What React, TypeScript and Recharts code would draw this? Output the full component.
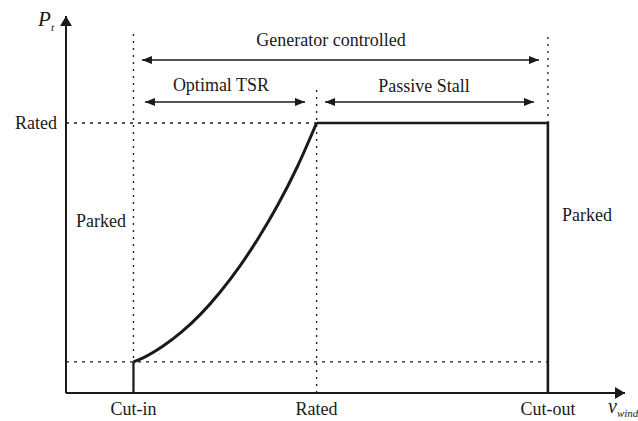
import { LineChart, Line, XAxis, YAxis, ReferenceLine, ReferenceDot } from "recharts";

const FONT = '"Liberation Serif", "Times New Roman", serif';
const INK = "#1a1a1a";

// wind speed (arbitrary units) and power (% of rated)
const windTicks = [3.5, 13, 25];
const windNames = ["Cut-in", "Rated", "Cut-out"];
const powerTicks = [100];
const powerNames = ["Rated"];

const curveV = [3.5, 4, 5, 6, 7, 8, 9, 10, 11, 12, 13];
const curveP = [11.5, 13, 17.2, 22.6, 29.3, 37.4, 46.8, 57.6, 69.8, 83.8, 100];
const stallV = [13, 25, 25];
const stallP = [100, 100, 0];
const stubV = [3.5, 3.5];
const stubP = [0, 11.5];

const curveData = curveV.map((v, i) => ({ v, p: curveP[i] }));
const stallData = stallV.map((v, i) => ({ v, p: stallP[i] }));
const stubData = stubV.map((v, i) => ({ v, p: stubP[i] }));

// region spans [from, to, level]
const genSpan = [3.94, 24.54, 123.3];
const tsrSpan = [4.1, 12.4, 107.8];
const stallSpan = [13.44, 24.28, 107.8];

const tickText = { fill: INK, fontSize: 18, fontFamily: FONT };

const arrow = (both: boolean, marker: string, width: number) => (p: any) => (
  <line
    x1={p.x1}
    y1={p.y1}
    x2={p.x2}
    y2={p.y2}
    stroke={INK}
    strokeWidth={width}
    markerEnd={`url(#${marker})`}
    markerStart={both ? `url(#${marker})` : undefined}
  />
);

const textLabel = (value: string) => ({
  value,
  position: "center" as const,
  fill: INK,
  fontSize: 18,
  fontFamily: FONT,
});

export default function App() {
  return (
    <div style={{ position: "absolute", left: 0, top: 0, width: 638, height: 421, background: "#fff" }}>
      <LineChart
        width={638}
        height={421}
        margin={{ top: 15, right: 13, bottom: 0, left: 0 }}
        style={{ fontFamily: FONT }}
      >
        <defs>
          <marker id="headS" viewBox="0 0 10 8" markerWidth={10} markerHeight={8} refX={10} refY={4}
            markerUnits="userSpaceOnUse" orient="auto-start-reverse">
            <path d="M0,0 L10,4 L0,8 z" fill={INK} />
          </marker>
          <marker id="headL" viewBox="0 0 10 12" markerWidth={10} markerHeight={12} refX={10} refY={6}
            markerUnits="userSpaceOnUse" orient="auto-start-reverse">
            <path d="M0,0 L10,6 L0,12 z" fill={INK} />
          </marker>
        </defs>
        <XAxis
          type="number"
          dataKey="v"
          domain={[0, 29]}
          ticks={windTicks}
          tickFormatter={(t: number) => windNames[windTicks.indexOf(t)]}
          interval={0}
          axisLine={false}
          tickLine={false}
          tickSize={0}
          tickMargin={9}
          height={28}
          tick={tickText}
        />
        <YAxis
          type="number"
          domain={[0, 140]}
          ticks={powerTicks}
          tickFormatter={(t: number) => powerNames[powerTicks.indexOf(t)]}
          axisLine={false}
          tickLine={false}
          tickSize={0}
          tickMargin={9}
          width={66}
          tick={tickText}
        />

        {/* dotted guides */}
        <ReferenceLine segment={[{ x: 0, y: 100 }, { x: 13, y: 100 }]} stroke={INK} strokeWidth={1.3} strokeDasharray="3 5" />
        <ReferenceLine segment={[{ x: 0, y: 11.5 }, { x: 25, y: 11.5 }]} stroke={INK} strokeWidth={1.3} strokeDasharray="3 5" />
        <ReferenceLine segment={[{ x: 3.5, y: 0 }, { x: 3.5, y: 133.7 }]} stroke={INK} strokeWidth={1.3} strokeDasharray="2 5" />
        <ReferenceLine segment={[{ x: 13, y: 0 }, { x: 13, y: 114 }]} stroke={INK} strokeWidth={1.3} strokeDasharray="2 5" />
        <ReferenceLine segment={[{ x: 25, y: 100 }, { x: 25, y: 133.7 }]} stroke={INK} strokeWidth={1.3} strokeDasharray="2 5" />

        {/* axes */}
        <ReferenceLine segment={[{ x: 0, y: 0 }, { x: 29, y: 0 }]} shape={arrow(false, "headL", 2)} />
        <ReferenceLine segment={[{ x: 0, y: 0 }, { x: 0, y: 139.6 }]} shape={arrow(false, "headL", 2)} />

        {/* region spans */}
        <ReferenceLine segment={[{ x: genSpan[0], y: genSpan[2] }, { x: genSpan[1], y: genSpan[2] }]} shape={arrow(true, "headS", 1.5)} />
        <ReferenceLine segment={[{ x: tsrSpan[0], y: tsrSpan[2] }, { x: tsrSpan[1], y: tsrSpan[2] }]} shape={arrow(true, "headS", 1.5)} />
        <ReferenceLine segment={[{ x: stallSpan[0], y: stallSpan[2] }, { x: stallSpan[1], y: stallSpan[2] }]} shape={arrow(true, "headS", 1.5)} />

        <Line data={stubData} dataKey="p" type="linear" stroke={INK} strokeWidth={2.2} dot={false} isAnimationActive={false} />
        <Line data={curveData} dataKey="p" type="monotone" stroke={INK} strokeWidth={3} dot={false} isAnimationActive={false} />
        <Line data={stallData} dataKey="p" type="linear" stroke={INK} strokeWidth={2.6} dot={false} isAnimationActive={false} />

        <ReferenceDot x={13.75} y={130.9} r={0} fill="none" stroke="none" label={textLabel("Generator controlled")} />
        <ReferenceDot x={8.04} y={114.2} r={0} fill="none" stroke="none" label={textLabel("Optimal TSR")} />
        <ReferenceDot x={18.57} y={113.8} r={0} fill="none" stroke="none" label={textLabel("Passive Stall")} />
        <ReferenceDot x={1.82} y={63.9} r={0} fill="none" stroke="none" label={textLabel("Parked")} />
        <ReferenceDot x={27.03} y={66.1} r={0} fill="none" stroke="none" label={textLabel("Parked")} />

        <ReferenceDot
          x={-1.45}
          y={135.9}
          r={0}
          fill="none"
          stroke="none"
          ifOverflow="visible"
          label={{
            content: (p: any) => (
              <text x={p.viewBox.x} y={p.viewBox.y} fill={INK} fontFamily={FONT} fontStyle="italic" fontSize={21}>
                P<tspan fontSize={11} dy={5}>t</tspan>
              </text>
            ),
          }}
        />
        <ReferenceDot
          x={28.12}
          y={-7.4}
          r={0}
          fill="none"
          stroke="none"
          ifOverflow="visible"
          label={{
            content: (p: any) => (
              <text x={p.viewBox.x} y={p.viewBox.y} fill={INK} fontFamily={FONT} fontStyle="italic" fontSize={20}>
                v<tspan fontSize={11} dy={4}>wind</tspan>
              </text>
            ),
          }}
        />
      </LineChart>
    </div>
  );
}
